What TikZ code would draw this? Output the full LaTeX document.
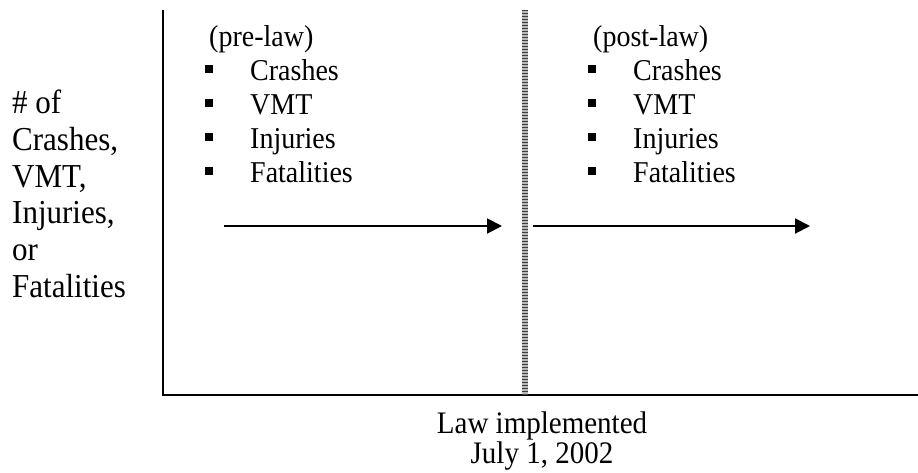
\documentclass[tikz,border=0pt]{standalone}
\usepackage{fontspec}
\usepackage{graphicx}
\setmainfont{Liberation Serif}
\usetikzlibrary{arrows.meta}
\newcommand{\tall}[1]{\scalebox{1}[1.08]{#1}}
\tikzset{
  lbl/.style={anchor=base west,inner sep=0pt,font=\fontsize{28}{34}\selectfont},
  ylbl/.style={anchor=base west,inner sep=0pt,font=\fontsize{31}{36}\selectfont},
  ctr/.style={anchor=base,inner sep=0pt,font=\fontsize{29}{34}\selectfont},
  bul/.style={fill=black,inner sep=0pt,minimum size=8pt,draw=none},
  axis/.style={line width=2.2pt,black},
  trend/.style={line width=2pt,-{Triangle[length=15pt,width=15pt]}},
}
\begin{document}
\begin{tikzpicture}[x=1pt,y=-1pt]
\useasboundingbox (0,0) rectangle (918,472);
% axes
\coordinate (ytop) at (163,10);
\coordinate (orig) at (163,395);
\coordinate (xend) at (918,395);
\draw[axis] (ytop) -- (orig) -- (xend);
% law line
\coordinate (ltop) at (525,10);
\coordinate (lbot) at (525,395);
\draw[line width=5.5pt,gray!55] (ltop) -- (lbot);
\draw[line width=5.5pt,black!75,dash pattern=on 1.4pt off 1.6pt] (ltop) -- (lbot);
% y label
\foreach \t [count=\i] in {\# of,{Crashes,},{VMT,},{Injuries,},or,Fatalities}
  \node[ylbl] (yl\i) at (12,{113.5+36.75*(\i-1)}) {\tall{\t}};
% pre-law
\node[lbl] (pre) at (209,46) {\tall{(pre-law)}};
\foreach \t [count=\i] in {Crashes,VMT,Injuries,Fatalities}{
  \node[lbl] (pre\i) at (250,{46+34*\i}) {\tall{\t}};
  \node[bul] (preb\i) at (209,{46+34*\i-11}) {};
}
% post-law
\node[lbl] (post) at (593,46) {\tall{(post-law)}};
\foreach \t [count=\i] in {Crashes,VMT,Injuries,Fatalities}{
  \node[lbl] (post\i) at (633,{46+34*\i}) {\tall{\t}};
  \node[bul] (postb\i) at (592,{46+34*\i-11}) {};
}
% arrows
\coordinate (a1s) at (224,226);
\coordinate (a1e) at (502,226);
\coordinate (a2s) at (533,226);
\coordinate (a2e) at (810,226);
\draw[trend] (a1s) -- (a1e);
\draw[trend] (a2s) -- (a2e);
% bottom label
\node[ctr] (law) at (542,433) {\tall{Law implemented}};
\node[ctr] (date) at (542,463) {\tall{July 1, 2002}};
\end{tikzpicture}
\end{document}
